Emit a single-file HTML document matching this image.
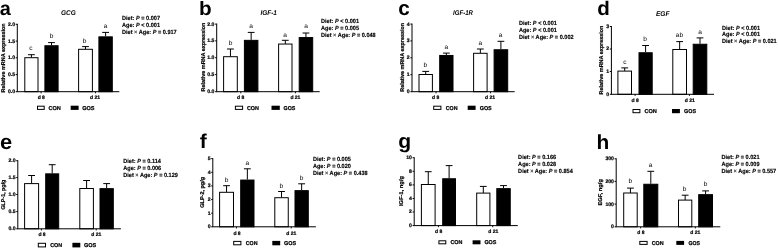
<!DOCTYPE html>
<html lang="en">
<head>
<meta charset="utf-8">
<title>Figure: mRNA expression and concentrations of GCG, IGF-1, IGF-1R, EGF, GLP-1, GLP-2</title>
<style>
html,body{margin:0;padding:0;background:#fff;}
body{width:778px;height:248px;overflow:hidden;}
svg{display:block;}
svg text{font-family:"Liberation Sans", Arial, sans-serif;fill:#000;text-rendering:geometricPrecision;}
svg text.s{stroke:#000;stroke-width:0.22px;}
svg text.g{text-rendering:geometricPrecision;}
svg text.s2{stroke:#000;stroke-width:0.14px;}
</style>
</head>
<body>
<svg width="778" height="248" viewBox="0 0 778 248">
<rect width="778" height="248" fill="#fff"/>
<g transform="translate(0 0.3)" style="filter:blur(0.3px)">
<g id="panel-a">
<text transform="translate(-0.2 15) scale(1.02 1)" font-size="19.5" font-weight="bold">a</text>
<text x="68.4" y="15.1" font-size="6.9" font-weight="bold" font-style="italic" text-anchor="middle" textLength="14.8" lengthAdjust="spacingAndGlyphs">GCG</text>
<path d="M31.4 57.4V54.4M28 54.4H34.8" stroke="#000" stroke-width="1.0" fill="none"/>
<rect x="24.8" y="57.4" width="13.2" height="34" fill="#fff" stroke="#000" stroke-width="1.0"/>
<path d="M51.5 45V42.3M48.1 42.3H54.9" stroke="#000" stroke-width="1.0" fill="none"/>
<rect x="44.9" y="45.45" width="13.2" height="45.95" fill="#000" stroke="#000" stroke-width="1.0"/>
<path d="M85.5 49V46.3M82.1 46.3H88.9" stroke="#000" stroke-width="1.0" fill="none"/>
<rect x="78.6" y="49" width="13.8" height="42.4" fill="#fff" stroke="#000" stroke-width="1.0"/>
<path d="M105.6 36.1V32.1M102.2 32.1H109" stroke="#000" stroke-width="1.0" fill="none"/>
<rect x="98.9" y="36.55" width="13.4" height="54.85" fill="#000" stroke="#000" stroke-width="1.0"/>
<path d="M17.3 23.5V91.4M16.8 91.4H119.3" stroke="#000" stroke-width="1.0" fill="none"/>
<path d="M15.7 24H17.3M15.7 40.8H17.3M15.7 57.5H17.3M15.7 74.3H17.3M15.7 91.4H17.3M41.1 91.4V93M95.4 91.4V93" stroke="#000" stroke-width="1.0" fill="none"/>
<text x="15" y="25.5" class="s" font-size="5.1" font-weight="bold" text-anchor="end">2.0</text>
<text x="15" y="42.3" class="s" font-size="5.1" font-weight="bold" text-anchor="end">1.5</text>
<text x="15" y="59" class="s" font-size="5.1" font-weight="bold" text-anchor="end">1.0</text>
<text x="15" y="75.8" class="s" font-size="5.1" font-weight="bold" text-anchor="end">0.5</text>
<text x="15" y="92.9" class="s" font-size="5.1" font-weight="bold" text-anchor="end">0.0</text>
<text x="41.3" y="98.4" class="s" font-size="5" font-weight="bold" text-anchor="middle">d 8</text>
<text x="95.1" y="98.4" class="s" font-size="5" font-weight="bold" text-anchor="middle">d 21</text>
<text transform="translate(31 50) scale(1.05 1)" class="g" font-size="6.3" text-anchor="middle">c</text>
<text transform="translate(51.6 37.6) scale(1.05 1)" class="g" font-size="6.3" text-anchor="middle">b</text>
<text transform="translate(84.5 42.8) scale(1.05 1)" class="g" font-size="6.3" text-anchor="middle">b</text>
<text transform="translate(105.6 27.6) scale(1.05 1)" class="g" font-size="6.3" text-anchor="middle">a</text>
<rect x="37.5" y="105.9" width="6.7" height="3.2" fill="#fff" stroke="#000" stroke-width="1"/>
<rect x="70.7" y="105.4" width="7.9" height="4.2" fill="#000"/>
<text x="48.5" y="109.4" class="s" font-size="5.6" font-weight="bold" textLength="12.4" lengthAdjust="spacingAndGlyphs">CON</text>
<text x="82.2" y="109.4" class="s" font-size="5.6" font-weight="bold" textLength="12.4" lengthAdjust="spacingAndGlyphs">GOS</text>
<text transform="translate(122 19.7) scale(0.94 1)" class="s2" font-size="5.95" font-weight="bold" xml:space="preserve">Diet: <tspan font-style="italic">P</tspan> = 0.007</text>
<text transform="translate(122 26.7) scale(0.94 1)" class="s2" font-size="5.95" font-weight="bold" xml:space="preserve">Age: <tspan font-style="italic">P</tspan> < 0.001</text>
<text transform="translate(122 33.9) scale(0.94 1)" class="s2" font-size="5.95" font-weight="bold" xml:space="preserve">Diet <tspan font-weight="normal">×</tspan> Age: <tspan font-style="italic">P</tspan> = 0.917</text>
<text transform="translate(5.1 57.6) rotate(-90)" class="s" font-size="5.5" font-weight="bold" text-anchor="middle" textLength="69.2" lengthAdjust="spacingAndGlyphs">Relative mRNA expression</text>
</g>
<g id="panel-b">
<text transform="translate(198.9 15) scale(1.07 1)" font-size="19.4" font-weight="bold">b</text>
<text x="268.7" y="14.4" font-size="6.9" font-weight="bold" font-style="italic" text-anchor="middle" textLength="16.5" lengthAdjust="spacingAndGlyphs">IGF-1</text>
<path d="M230.45 56.4V48.7M227.05 48.7H233.85" stroke="#000" stroke-width="1.0" fill="none"/>
<rect x="223.6" y="56.4" width="13.7" height="35" fill="#fff" stroke="#000" stroke-width="1.0"/>
<path d="M251.15 39.6V32.1M247.75 32.1H254.55" stroke="#000" stroke-width="1.0" fill="none"/>
<rect x="244.4" y="40.05" width="13.5" height="51.35" fill="#000" stroke="#000" stroke-width="1.0"/>
<path d="M285.3 43.75V40M281.9 40H288.7" stroke="#000" stroke-width="1.0" fill="none"/>
<rect x="278.6" y="43.75" width="13.4" height="47.65" fill="#fff" stroke="#000" stroke-width="1.0"/>
<path d="M305.95 36.8V32.7M302.55 32.7H309.35" stroke="#000" stroke-width="1.0" fill="none"/>
<rect x="299.2" y="37.25" width="13.5" height="54.15" fill="#000" stroke="#000" stroke-width="1.0"/>
<path d="M216.7 23.3V91.4M216.2 91.4H319.7" stroke="#000" stroke-width="1.0" fill="none"/>
<path d="M215.1 23.8H216.7M215.1 40.6H216.7M215.1 57.4H216.7M215.1 74.3H216.7M215.1 91.4H216.7M240.8 91.4V93M295.4 91.4V93" stroke="#000" stroke-width="1.0" fill="none"/>
<text x="214.4" y="25.3" class="s" font-size="5.1" font-weight="bold" text-anchor="end">2.0</text>
<text x="214.4" y="42.1" class="s" font-size="5.1" font-weight="bold" text-anchor="end">1.5</text>
<text x="214.4" y="58.9" class="s" font-size="5.1" font-weight="bold" text-anchor="end">1.0</text>
<text x="214.4" y="75.8" class="s" font-size="5.1" font-weight="bold" text-anchor="end">0.5</text>
<text x="214.4" y="92.9" class="s" font-size="5.1" font-weight="bold" text-anchor="end">0.0</text>
<text x="240.7" y="98.4" class="s" font-size="5" font-weight="bold" text-anchor="middle">d 8</text>
<text x="295.4" y="98.4" class="s" font-size="5" font-weight="bold" text-anchor="middle">d 21</text>
<text transform="translate(230.5 44.5) scale(1.05 1)" class="g" font-size="6.3" text-anchor="middle">b</text>
<text transform="translate(251 27.8) scale(1.05 1)" class="g" font-size="6.3" text-anchor="middle">a</text>
<text transform="translate(285 36.2) scale(1.05 1)" class="g" font-size="6.3" text-anchor="middle">a</text>
<text transform="translate(306 27.5) scale(1.05 1)" class="g" font-size="6.3" text-anchor="middle">a</text>
<rect x="235.4" y="105.9" width="7.2" height="3.2" fill="#fff" stroke="#000" stroke-width="1"/>
<rect x="271.5" y="105.4" width="8.3" height="4.2" fill="#000"/>
<text x="246.9" y="109.4" class="s" font-size="5.6" font-weight="bold" textLength="12" lengthAdjust="spacingAndGlyphs">CON</text>
<text x="283.6" y="109.4" class="s" font-size="5.6" font-weight="bold" textLength="11.8" lengthAdjust="spacingAndGlyphs">GOS</text>
<text transform="translate(321 22.7) scale(0.94 1)" class="s2" font-size="5.95" font-weight="bold" xml:space="preserve">Diet: <tspan font-style="italic">P</tspan> < 0.001</text>
<text transform="translate(321 29.7) scale(0.94 1)" class="s2" font-size="5.95" font-weight="bold" xml:space="preserve">Age: <tspan font-style="italic">P</tspan> = 0.005</text>
<text transform="translate(321 36.7) scale(0.94 1)" class="s2" font-size="5.95" font-weight="bold" xml:space="preserve">Diet <tspan font-weight="normal">×</tspan> Age: <tspan font-style="italic">P</tspan> = 0.048</text>
<text transform="translate(204.5 56.8) rotate(-90)" class="s" font-size="5.5" font-weight="bold" text-anchor="middle" textLength="68.7" lengthAdjust="spacingAndGlyphs">Relative mRNA expression</text>
</g>
<g id="panel-c">
<text transform="translate(398.3 14.6) scale(1.02 1)" font-size="20.3" font-weight="bold">c</text>
<text x="463" y="14.4" font-size="6.9" font-weight="bold" font-style="italic" text-anchor="middle" textLength="20" lengthAdjust="spacingAndGlyphs">IGF-1R</text>
<path d="M425.7 74.2V71.1M422.3 71.1H429.1" stroke="#000" stroke-width="1.0" fill="none"/>
<rect x="419" y="74.2" width="13.4" height="17.2" fill="#fff" stroke="#000" stroke-width="1.0"/>
<path d="M446.35 54.7V52.8M442.95 52.8H449.75" stroke="#000" stroke-width="1.0" fill="none"/>
<rect x="439.7" y="55.15" width="13.3" height="36.25" fill="#000" stroke="#000" stroke-width="1.0"/>
<path d="M480.35 53V48.7M476.95 48.7H483.75" stroke="#000" stroke-width="1.0" fill="none"/>
<rect x="473.6" y="53" width="13.5" height="38.4" fill="#fff" stroke="#000" stroke-width="1.0"/>
<path d="M500.9 49V41M497.5 41H504.3" stroke="#000" stroke-width="1.0" fill="none"/>
<rect x="494.1" y="49.45" width="13.6" height="41.95" fill="#000" stroke="#000" stroke-width="1.0"/>
<path d="M412 23.3V91.4M411.5 91.4H514.7" stroke="#000" stroke-width="1.0" fill="none"/>
<path d="M410.4 23.8H412M410.4 40.6H412M410.4 57.5H412M410.4 74.4H412M410.4 91.4H412M436 91.4V93M490.6 91.4V93" stroke="#000" stroke-width="1.0" fill="none"/>
<text x="409.7" y="25.3" class="s" font-size="5.1" font-weight="bold" text-anchor="end">4</text>
<text x="409.7" y="42.1" class="s" font-size="5.1" font-weight="bold" text-anchor="end">3</text>
<text x="409.7" y="59" class="s" font-size="5.1" font-weight="bold" text-anchor="end">2</text>
<text x="409.7" y="75.9" class="s" font-size="5.1" font-weight="bold" text-anchor="end">1</text>
<text x="409.7" y="92.9" class="s" font-size="5.1" font-weight="bold" text-anchor="end">0</text>
<text x="435.7" y="98.4" class="s" font-size="5" font-weight="bold" text-anchor="middle">d 8</text>
<text x="490" y="98.4" class="s" font-size="5" font-weight="bold" text-anchor="middle">d 21</text>
<text transform="translate(425.3 66.8) scale(1.05 1)" class="g" font-size="6.3" text-anchor="middle">b</text>
<text transform="translate(446.25 48.95) scale(1.05 1)" class="g" font-size="6.3" text-anchor="middle">a</text>
<text transform="translate(480.4 44.2) scale(1.05 1)" class="g" font-size="6.3" text-anchor="middle">a</text>
<text transform="translate(500.6 36.7) scale(1.05 1)" class="g" font-size="6.3" text-anchor="middle">a</text>
<rect x="433.7" y="105.9" width="7.2" height="3.2" fill="#fff" stroke="#000" stroke-width="1"/>
<rect x="467.7" y="105.4" width="7.9" height="4.2" fill="#000"/>
<text x="445.7" y="109.4" class="s" font-size="5.6" font-weight="bold" textLength="11.8" lengthAdjust="spacingAndGlyphs">CON</text>
<text x="479.7" y="109.4" class="s" font-size="5.6" font-weight="bold" textLength="12" lengthAdjust="spacingAndGlyphs">GOS</text>
<text transform="translate(518.9 24.9) scale(0.94 1)" class="s2" font-size="5.95" font-weight="bold" xml:space="preserve">Diet: <tspan font-style="italic">P</tspan> < 0.001</text>
<text transform="translate(518.9 31.8) scale(0.94 1)" class="s2" font-size="5.95" font-weight="bold" xml:space="preserve">Age: <tspan font-style="italic">P</tspan> < 0.001</text>
<text transform="translate(518.9 38.9) scale(0.94 1)" class="s2" font-size="5.95" font-weight="bold" xml:space="preserve">Diet <tspan font-weight="normal">×</tspan> Age: <tspan font-style="italic">P</tspan> = 0.002</text>
<text transform="translate(403.9 57) rotate(-90)" class="s" font-size="5.5" font-weight="bold" text-anchor="middle" textLength="68.7" lengthAdjust="spacingAndGlyphs">Relative mRNA expression</text>
</g>
<g id="panel-d">
<text transform="translate(597.3 14.8) scale(1.04 1)" font-size="19.8" font-weight="bold">d</text>
<text x="662.7" y="16" font-size="6.9" font-weight="bold" font-style="italic" text-anchor="middle" textLength="13.5" lengthAdjust="spacingAndGlyphs">EGF</text>
<path d="M624.7 70.8V67.6M621.3 67.6H628.1" stroke="#000" stroke-width="1.0" fill="none"/>
<rect x="617.9" y="70.8" width="13.6" height="23.2" fill="#fff" stroke="#000" stroke-width="1.0"/>
<path d="M645.6 52V45.2M642.2 45.2H649" stroke="#000" stroke-width="1.0" fill="none"/>
<rect x="639" y="52.45" width="13.2" height="41.55" fill="#000" stroke="#000" stroke-width="1.0"/>
<path d="M679.65 49.2V41.3M676.25 41.3H683.05" stroke="#000" stroke-width="1.0" fill="none"/>
<rect x="672.8" y="49.2" width="13.7" height="44.8" fill="#fff" stroke="#000" stroke-width="1.0"/>
<path d="M700 43.5V37.6M696.6 37.6H703.4" stroke="#000" stroke-width="1.0" fill="none"/>
<rect x="693.2" y="43.95" width="13.6" height="50.05" fill="#000" stroke="#000" stroke-width="1.0"/>
<path d="M611.4 25.7V94M610.9 94H714" stroke="#000" stroke-width="1.0" fill="none"/>
<path d="M609.8 26.2H611.4M609.8 48.7H611.4M609.8 71.2H611.4M609.8 94H611.4M635.1 94V95.6M689.4 94V95.6" stroke="#000" stroke-width="1.0" fill="none"/>
<text x="609.1" y="27.7" class="s" font-size="5.1" font-weight="bold" text-anchor="end">3</text>
<text x="609.1" y="50.2" class="s" font-size="5.1" font-weight="bold" text-anchor="end">2</text>
<text x="609.1" y="72.7" class="s" font-size="5.1" font-weight="bold" text-anchor="end">1</text>
<text x="609.1" y="95.5" class="s" font-size="5.1" font-weight="bold" text-anchor="end">0</text>
<text x="635.2" y="101.8" class="s" font-size="5" font-weight="bold" text-anchor="middle">d 8</text>
<text x="689.7" y="101.8" class="s" font-size="5" font-weight="bold" text-anchor="middle">d 21</text>
<text transform="translate(625 63.2) scale(1.05 1)" class="g" font-size="6.3" text-anchor="middle">c</text>
<text transform="translate(645.2 40.5) scale(1.05 1)" class="g" font-size="6.3" text-anchor="middle">b</text>
<text transform="translate(679.4 37) scale(1.05 1)" class="g" font-size="6.3" text-anchor="middle">ab</text>
<text transform="translate(700 33.2) scale(1.05 1)" class="g" font-size="6.3" text-anchor="middle">a</text>
<rect x="633" y="109.2" width="6.9" height="3.2" fill="#fff" stroke="#000" stroke-width="1"/>
<rect x="672" y="108.7" width="7.9" height="4.2" fill="#000"/>
<text x="644.5" y="112.7" class="s" font-size="5.6" font-weight="bold" textLength="12.4" lengthAdjust="spacingAndGlyphs">CON</text>
<text x="684" y="112.7" class="s" font-size="5.6" font-weight="bold" textLength="12" lengthAdjust="spacingAndGlyphs">GOS</text>
<text transform="translate(722 29.2) scale(0.94 1)" class="s2" font-size="5.95" font-weight="bold" xml:space="preserve">Diet: <tspan font-style="italic">P</tspan> < 0.001</text>
<text transform="translate(722 36) scale(0.94 1)" class="s2" font-size="5.95" font-weight="bold" xml:space="preserve">Age: <tspan font-style="italic">P</tspan> < 0.001</text>
<text transform="translate(722 42.95) scale(0.94 1)" class="s2" font-size="5.95" font-weight="bold" xml:space="preserve">Diet <tspan font-weight="normal">×</tspan> Age: <tspan font-style="italic">P</tspan> = 0.021</text>
<text transform="translate(603.2 59.8) rotate(-90)" class="s" font-size="5.5" font-weight="bold" text-anchor="middle" textLength="68.8" lengthAdjust="spacingAndGlyphs">Relative mRNA expression</text>
</g>
<g id="panel-e">
<text transform="translate(0 148.2) scale(1.04 1)" font-size="21.0" font-weight="bold">e</text>
<path d="M31.6 183.3V175.2M28.2 175.2H35" stroke="#000" stroke-width="1.0" fill="none"/>
<rect x="24.6" y="183.3" width="14" height="45.2" fill="#fff" stroke="#000" stroke-width="1.0"/>
<path d="M52.2 173.1V164.4M48.8 164.4H55.6" stroke="#000" stroke-width="1.0" fill="none"/>
<rect x="45.7" y="173.55" width="13" height="54.95" fill="#000" stroke="#000" stroke-width="1.0"/>
<path d="M86.6 188.2V180.2M83.2 180.2H90" stroke="#000" stroke-width="1.0" fill="none"/>
<rect x="79.8" y="188.2" width="13.6" height="40.3" fill="#fff" stroke="#000" stroke-width="1.0"/>
<path d="M106.65 187.9V183.3M103.25 183.3H110.05" stroke="#000" stroke-width="1.0" fill="none"/>
<rect x="100" y="188.35" width="13.3" height="40.15" fill="#000" stroke="#000" stroke-width="1.0"/>
<path d="M17.8 159.9V228.5M17.3 228.5H120.9" stroke="#000" stroke-width="1.0" fill="none"/>
<path d="M16.2 160.4H17.8M16.2 177.3H17.8M16.2 194.2H17.8M16.2 211.3H17.8M16.2 228.5H17.8M41.4 228.5V230.1M96.2 228.5V230.1" stroke="#000" stroke-width="1.0" fill="none"/>
<text x="15.5" y="161.9" class="s" font-size="5.1" font-weight="bold" text-anchor="end">2.0</text>
<text x="15.5" y="178.8" class="s" font-size="5.1" font-weight="bold" text-anchor="end">1.5</text>
<text x="15.5" y="195.7" class="s" font-size="5.1" font-weight="bold" text-anchor="end">1.0</text>
<text x="15.5" y="212.8" class="s" font-size="5.1" font-weight="bold" text-anchor="end">0.5</text>
<text x="15.5" y="230" class="s" font-size="5.1" font-weight="bold" text-anchor="end">0.0</text>
<text x="42" y="235.6" class="s" font-size="5" font-weight="bold" text-anchor="middle">d 8</text>
<text x="96.2" y="235.6" class="s" font-size="5" font-weight="bold" text-anchor="middle">d 21</text>
<rect x="38.3" y="243" width="7.2" height="3.6" fill="#fff" stroke="#000" stroke-width="1"/>
<rect x="72.4" y="242.5" width="7.9" height="4.6" fill="#000"/>
<text x="50.2" y="246.9" class="s" font-size="5.6" font-weight="bold" textLength="12" lengthAdjust="spacingAndGlyphs">CON</text>
<text x="83.9" y="246.9" class="s" font-size="5.6" font-weight="bold" textLength="12.3" lengthAdjust="spacingAndGlyphs">GOS</text>
<text transform="translate(123.2 162.7) scale(0.94 1)" class="s2" font-size="5.95" font-weight="bold" xml:space="preserve">Diet: <tspan font-style="italic">P</tspan> = 0.114</text>
<text transform="translate(123.2 169.7) scale(0.94 1)" class="s2" font-size="5.95" font-weight="bold" xml:space="preserve">Age: <tspan font-style="italic">P</tspan> = 0.006</text>
<text transform="translate(123.2 176.7) scale(0.94 1)" class="s2" font-size="5.95" font-weight="bold" xml:space="preserve">Diet <tspan font-weight="normal">×</tspan> Age: <tspan font-style="italic">P</tspan> = 0.129</text>
<text transform="translate(5.3 194.3) rotate(-90)" class="s" font-size="5.5" font-weight="bold" text-anchor="middle" textLength="30" lengthAdjust="spacingAndGlyphs">GLP-1, pg/g</text>
</g>
<g id="panel-f">
<text transform="translate(199.8 147.9) scale(1.05 1)" font-size="20.0" font-weight="bold">f</text>
<path d="M226.55 192V185.4M223.15 185.4H229.95" stroke="#000" stroke-width="1.0" fill="none"/>
<rect x="219.6" y="192" width="13.9" height="34.5" fill="#fff" stroke="#000" stroke-width="1.0"/>
<path d="M247.35 179.3V168.5M243.95 168.5H250.75" stroke="#000" stroke-width="1.0" fill="none"/>
<rect x="240.7" y="179.75" width="13.3" height="46.75" fill="#000" stroke="#000" stroke-width="1.0"/>
<path d="M281.52 197.4V191.2M278.12 191.2H284.92" stroke="#000" stroke-width="1.0" fill="none"/>
<rect x="274.8" y="197.4" width="13.45" height="29.1" fill="#fff" stroke="#000" stroke-width="1.0"/>
<path d="M301.65 189.9V183.5M298.25 183.5H305.05" stroke="#000" stroke-width="1.0" fill="none"/>
<rect x="295" y="190.35" width="13.3" height="36.15" fill="#000" stroke="#000" stroke-width="1.0"/>
<path d="M212.8 157.8V226.5M212.3 226.5H315.9" stroke="#000" stroke-width="1.0" fill="none"/>
<path d="M211.2 158.3H212.8M211.2 172H212.8M211.2 185.6H212.8M211.2 199.2H212.8M211.2 212.9H212.8M211.2 226.5H212.8M236.4 226.5V228.1M291.2 226.5V228.1" stroke="#000" stroke-width="1.0" fill="none"/>
<text x="210.5" y="159.8" class="s" font-size="5.1" font-weight="bold" text-anchor="end">5</text>
<text x="210.5" y="173.5" class="s" font-size="5.1" font-weight="bold" text-anchor="end">4</text>
<text x="210.5" y="187.1" class="s" font-size="5.1" font-weight="bold" text-anchor="end">3</text>
<text x="210.5" y="200.7" class="s" font-size="5.1" font-weight="bold" text-anchor="end">2</text>
<text x="210.5" y="214.4" class="s" font-size="5.1" font-weight="bold" text-anchor="end">1</text>
<text x="210.5" y="228" class="s" font-size="5.1" font-weight="bold" text-anchor="end">0</text>
<text x="237" y="234.3" class="s" font-size="5" font-weight="bold" text-anchor="middle">d 8</text>
<text x="291.2" y="234.3" class="s" font-size="5" font-weight="bold" text-anchor="middle">d 21</text>
<text transform="translate(226.6 181.2) scale(1.05 1)" class="g" font-size="6.3" text-anchor="middle">b</text>
<text transform="translate(247.3 164.2) scale(1.05 1)" class="g" font-size="6.3" text-anchor="middle">a</text>
<text transform="translate(281.3 187.6) scale(1.05 1)" class="g" font-size="6.3" text-anchor="middle">b</text>
<text transform="translate(301.6 179.5) scale(1.05 1)" class="g" font-size="6.3" text-anchor="middle">b</text>
<rect x="233.7" y="241.1" width="7.2" height="3.4" fill="#fff" stroke="#000" stroke-width="1"/>
<rect x="272.3" y="240.6" width="7.9" height="4.4" fill="#000"/>
<text x="245.7" y="244.8" class="s" font-size="5.6" font-weight="bold" textLength="11.8" lengthAdjust="spacingAndGlyphs">CON</text>
<text x="284.1" y="244.8" class="s" font-size="5.6" font-weight="bold" textLength="12.1" lengthAdjust="spacingAndGlyphs">GOS</text>
<text transform="translate(312.9 161.1) scale(0.94 1)" class="s2" font-size="5.95" font-weight="bold" xml:space="preserve">Diet: <tspan font-style="italic">P</tspan> = 0.005</text>
<text transform="translate(312.9 168) scale(0.94 1)" class="s2" font-size="5.95" font-weight="bold" xml:space="preserve">Age: <tspan font-style="italic">P</tspan> = 0.020</text>
<text transform="translate(312.9 175) scale(0.94 1)" class="s2" font-size="5.95" font-weight="bold" xml:space="preserve">Diet <tspan font-weight="normal">×</tspan> Age: <tspan font-style="italic">P</tspan> = 0.438</text>
<text transform="translate(204.1 192) rotate(-90)" class="s" font-size="5.5" font-weight="bold" text-anchor="middle" textLength="30.8" lengthAdjust="spacingAndGlyphs">GLP-2, pg/g</text>
</g>
<g id="panel-g">
<text transform="translate(398.2 147.6) scale(1.03 1)" font-size="20.5" font-weight="bold">g</text>
<path d="M428.25 184.2V171.4M424.85 171.4H431.65" stroke="#000" stroke-width="1.0" fill="none"/>
<rect x="421.4" y="184.2" width="13.7" height="41.1" fill="#fff" stroke="#000" stroke-width="1.0"/>
<path d="M449.1 178V165.3M445.7 165.3H452.5" stroke="#000" stroke-width="1.0" fill="none"/>
<rect x="442.7" y="178.45" width="12.8" height="46.85" fill="#000" stroke="#000" stroke-width="1.0"/>
<path d="M483.3 192.8V186.1M479.9 186.1H486.7" stroke="#000" stroke-width="1.0" fill="none"/>
<rect x="476.7" y="192.8" width="13.2" height="32.5" fill="#fff" stroke="#000" stroke-width="1.0"/>
<path d="M503.52 187.9V185.3M500.12 185.3H506.92" stroke="#000" stroke-width="1.0" fill="none"/>
<rect x="496.8" y="188.35" width="13.45" height="36.95" fill="#000" stroke="#000" stroke-width="1.0"/>
<path d="M414.2 156.9V225.3M413.7 225.3H517.8" stroke="#000" stroke-width="1.0" fill="none"/>
<path d="M412.6 157.4H414.2M412.6 171H414.2M412.6 184.6H414.2M412.6 198.2H414.2M412.6 211.7H414.2M412.6 225.3H414.2M438.4 225.3V226.9M492.7 225.3V226.9" stroke="#000" stroke-width="1.0" fill="none"/>
<text x="411.9" y="158.9" class="s" font-size="5.1" font-weight="bold" text-anchor="end">10</text>
<text x="411.9" y="172.5" class="s" font-size="5.1" font-weight="bold" text-anchor="end">8</text>
<text x="411.9" y="186.1" class="s" font-size="5.1" font-weight="bold" text-anchor="end">6</text>
<text x="411.9" y="199.7" class="s" font-size="5.1" font-weight="bold" text-anchor="end">4</text>
<text x="411.9" y="213.2" class="s" font-size="5.1" font-weight="bold" text-anchor="end">2</text>
<text x="411.9" y="226.8" class="s" font-size="5.1" font-weight="bold" text-anchor="end">0</text>
<text x="438.7" y="233" class="s" font-size="5" font-weight="bold" text-anchor="middle">d 8</text>
<text x="493.2" y="233" class="s" font-size="5" font-weight="bold" text-anchor="middle">d 21</text>
<rect x="438.9" y="240.5" width="6.9" height="3" fill="#fff" stroke="#000" stroke-width="1"/>
<rect x="472.6" y="240" width="7.9" height="4" fill="#000"/>
<text x="450.4" y="243.8" class="s" font-size="5.6" font-weight="bold" textLength="12" lengthAdjust="spacingAndGlyphs">CON</text>
<text x="484.4" y="243.8" class="s" font-size="5.6" font-weight="bold" textLength="12" lengthAdjust="spacingAndGlyphs">GOS</text>
<text transform="translate(518.1 158.5) scale(0.94 1)" class="s2" font-size="5.95" font-weight="bold" xml:space="preserve">Diet: <tspan font-style="italic">P</tspan> = 0.166</text>
<text transform="translate(518.1 165.4) scale(0.94 1)" class="s2" font-size="5.95" font-weight="bold" xml:space="preserve">Age: <tspan font-style="italic">P</tspan> = 0.028</text>
<text transform="translate(518.1 172.3) scale(0.94 1)" class="s2" font-size="5.95" font-weight="bold" xml:space="preserve">Diet <tspan font-weight="normal">×</tspan> Age: <tspan font-style="italic">P</tspan> = 0.854</text>
<text transform="translate(403.3 190.7) rotate(-90)" class="s" font-size="5.5" font-weight="bold" text-anchor="middle" textLength="30" lengthAdjust="spacingAndGlyphs">IGF-1, ng/g</text>
</g>
<g id="panel-h">
<text transform="translate(596.6 148.6) scale(1.03 1)" font-size="20.3" font-weight="bold">h</text>
<path d="M630.45 192.7V187.8M627.05 187.8H633.85" stroke="#000" stroke-width="1.0" fill="none"/>
<rect x="623.7" y="192.7" width="13.5" height="33.8" fill="#fff" stroke="#000" stroke-width="1.0"/>
<path d="M650.8 183.5V171M647.4 171H654.2" stroke="#000" stroke-width="1.0" fill="none"/>
<rect x="643.8" y="183.95" width="14" height="42.55" fill="#000" stroke="#000" stroke-width="1.0"/>
<path d="M685.15 199.8V194.9M681.75 194.9H688.55" stroke="#000" stroke-width="1.0" fill="none"/>
<rect x="678.5" y="199.8" width="13.3" height="26.7" fill="#fff" stroke="#000" stroke-width="1.0"/>
<path d="M705.6 193.9V190.6M702.2 190.6H709" stroke="#000" stroke-width="1.0" fill="none"/>
<rect x="698.7" y="194.35" width="13.8" height="32.15" fill="#000" stroke="#000" stroke-width="1.0"/>
<path d="M616.2 158V226.5M615.7 226.5H720.3" stroke="#000" stroke-width="1.0" fill="none"/>
<path d="M614.6 158.5H616.2M614.6 181.1H616.2M614.6 203.8H616.2M614.6 226.5H616.2M640.7 226.5V228.1M695.3 226.5V228.1" stroke="#000" stroke-width="1.0" fill="none"/>
<text x="613.9" y="160" class="s" font-size="5.1" font-weight="bold" text-anchor="end">300</text>
<text x="613.9" y="182.6" class="s" font-size="5.1" font-weight="bold" text-anchor="end">200</text>
<text x="613.9" y="205.3" class="s" font-size="5.1" font-weight="bold" text-anchor="end">100</text>
<text x="613.9" y="228" class="s" font-size="5.1" font-weight="bold" text-anchor="end">0</text>
<text x="640.9" y="234" class="s" font-size="5" font-weight="bold" text-anchor="middle">d 8</text>
<text x="695.3" y="234" class="s" font-size="5" font-weight="bold" text-anchor="middle">d 21</text>
<text transform="translate(630.3 183.1) scale(1.05 1)" class="g" font-size="6.3" text-anchor="middle">b</text>
<text transform="translate(650.5 166.3) scale(1.05 1)" class="g" font-size="6.3" text-anchor="middle">a</text>
<text transform="translate(684.6 190.2) scale(1.05 1)" class="g" font-size="6.3" text-anchor="middle">b</text>
<text transform="translate(705.5 186.1) scale(1.05 1)" class="g" font-size="6.3" text-anchor="middle">b</text>
<rect x="639.8" y="241.1" width="7.3" height="3" fill="#fff" stroke="#000" stroke-width="1"/>
<rect x="676.3" y="240.6" width="7.8" height="4" fill="#000"/>
<text x="651.7" y="244.4" class="s" font-size="5.6" font-weight="bold" textLength="12" lengthAdjust="spacingAndGlyphs">CON</text>
<text x="688.4" y="244.4" class="s" font-size="5.6" font-weight="bold" textLength="11.5" lengthAdjust="spacingAndGlyphs">GOS</text>
<text transform="translate(721.5 158.7) scale(0.94 1)" class="s2" font-size="5.95" font-weight="bold" xml:space="preserve">Diet: <tspan font-style="italic">P</tspan> = 0.021</text>
<text transform="translate(721.5 165.7) scale(0.94 1)" class="s2" font-size="5.95" font-weight="bold" xml:space="preserve">Age: <tspan font-style="italic">P</tspan> = 0.009</text>
<text transform="translate(721.5 172.7) scale(0.94 1)" class="s2" font-size="5.95" font-weight="bold" xml:space="preserve">Diet <tspan font-weight="normal">×</tspan> Age: <tspan font-style="italic">P</tspan> = 0.557</text>
<text transform="translate(602 192) rotate(-90)" class="s" font-size="5.5" font-weight="bold" text-anchor="middle" textLength="26.6" lengthAdjust="spacingAndGlyphs">EGF, ng/g</text>
</g>
</g>
</svg>
</body>
</html>
